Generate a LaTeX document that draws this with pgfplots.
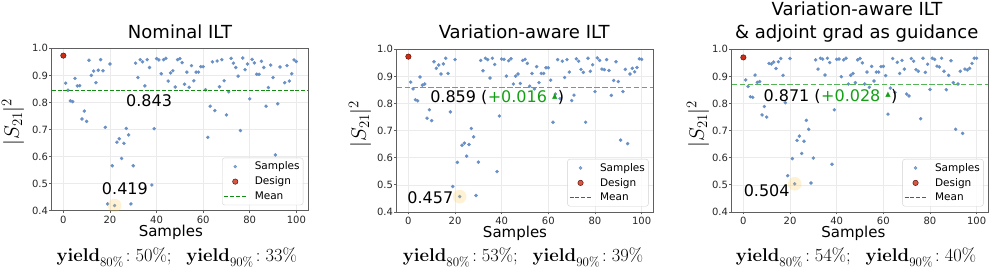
\RequirePackage{fix-cm}
\documentclass[border=0pt]{standalone}
\usepackage[no-math]{fontspec}
\setmainfont{DejaVu Sans}
\usepackage{pgfplots}
\pgfplotsset{compat=1.18}
\definecolor{sampleblue}{RGB}{104,144,198}
\definecolor{designred}{RGB}{205,45,20}
\definecolor{designedge}{RGB}{90,20,10}
\definecolor{meandark}{RGB}{20,140,20}
\definecolor{meanlight}{RGB}{85,180,85}
\definecolor{gtext}{RGB}{20,160,20}
\definecolor{hl}{RGB}{255,200,80}
\definecolor{gridgray}{RGB}{235,235,235}
\definecolor{framegray}{RGB}{95,95,95}
\tikzset{annot/.style={anchor=base west, inner sep=0pt, font=\fontsize{16}{19}\selectfont}}
\pgfplotsset{
  panel/.style={
    scale only axis, anchor=south west,
    xmin=-5, xmax=105, ymin=0.4, ymax=1.0,
    xtick={0,20,40,60,80,100}, ytick={0.4,0.5,0.6,0.7,0.8,0.9,1.0},
    grid=major, major grid style={color=gridgray, line width=0.6pt},
    axis line style={color=framegray, line width=0.8pt},
    tick style={color=framegray, line width=0.8pt},
    tick align=outside, major tick length=2.5pt,
    xtick pos=left, ytick pos=left,
    ticklabel style={font=\fontsize{10}{12}\selectfont, text=black!85},
    /pgf/number format/assume math mode=true,
    yticklabel style={/pgf/number format/fixed, /pgf/number format/fixed zerofill, /pgf/number format/precision=1, inner xsep=1pt},
    xticklabel style={inner ysep=2.8pt},
    clip mode=individual,
    legend cell align=left,
    legend image code/.code={\draw[mark repeat=2,mark phase=2,##1] plot coordinates {(0pt,0pt)(11pt,0pt)(22pt,0pt)};},
    legend style={at={(1,0)}, anchor=south east, xshift=-4.7pt, yshift=5.5pt,
      draw=black!18, rounded corners=2.5pt, fill=white, fill opacity=0.8, text opacity=1,
      font=\fontsize{10.5}{12}\selectfont, inner xsep=1.5pt, inner ysep=3pt,
      row sep=3.5pt, column sep=6pt, nodes={inner xsep=2pt, inner ysep=1pt}},
  },
  sampstyle/.style={only marks, mark=*, mark size=1.55pt, color=sampleblue, mark options={fill=sampleblue, draw=sampleblue}},
  designstyle/.style={only marks, mark=*, mark size=2.7pt, mark options={fill=designred, draw=designedge, line width=0.5pt}},
  hlc/.style={only marks, mark=*, mark size=6.8pt, color=hl, mark options={fill=hl, draw opacity=0, fill opacity=0.25}, forget plot},
}
\begin{document}
\begin{tikzpicture}
\path[use as bounding box] (0,0) rectangle (996pt,270pt);
% ---------------- Panel 1 ----------------
\begin{axis}[panel, at={(51.7pt,59.3pt)}, width=256.3pt, height=162.4pt]
\addplot[sampstyle] coordinates {
(1,0.871) (2,0.845) (3,0.806) (4,0.803) (5,0.889) (6,0.861) (7,0.862) (8,0.739) (9,0.768) (10,0.730)
(11,0.956) (12,0.900) (13,0.916) (14,0.873) (15,0.919) (16,0.958) (17,0.917) (18,0.708) (19,0.425) (20,0.942)
(21,0.566) (22,0.419) (23,0.653) (24,0.666) (25,0.593) (26,0.649) (27,0.704) (28,0.680) (29,0.425) (30,0.566)
(31,0.945) (32,0.892) (33,0.958) (34,0.950) (35,0.861) (36,0.958) (37,0.929) (38,0.495) (39,0.703) (40,0.962)
(41,0.957) (42,0.906) (43,0.958) (44,0.963) (45,0.879) (46,0.909) (47,0.917) (48,0.857) (49,0.958) (50,0.962)
(51,0.947) (52,0.867) (53,0.912) (54,0.856) (55,0.936) (56,0.880) (57,0.912) (58,0.912) (59,0.932) (60,0.932)
(61,0.847) (62,0.671) (63,0.786) (64,0.950) (65,0.770) (66,0.953) (67,0.858) (68,0.958) (69,0.880) (70,0.754)
(71,0.839) (72,0.963) (73,0.945) (74,0.929) (75,0.897) (76,0.696) (77,0.964) (78,0.921) (79,0.942) (80,0.813)
(81,0.959) (82,0.946) (83,0.904) (84,0.904) (85,0.952) (86,0.929) (87,0.786) (88,0.855) (89,0.938) (90,0.892)
(91,0.606) (92,0.795) (93,0.931) (95,0.873) (96,0.936) (97,0.879) (98,0.906) (99,0.957) (100,0.951)
};
\addlegendentry{Samples}
\addplot[designstyle] coordinates {(0,0.973)};
\addlegendentry{Design}
\addplot[color=meandark, line width=1pt, dash pattern=on 4pt off 1.8pt] coordinates {(-5,0.843) (105,0.843)};
\addlegendentry{Mean}
\addplot[hlc] coordinates {(22,0.419)};
\node[annot] at (axis cs:26.9,0.784) {0.843};
\node[annot] at (axis cs:16.5,0.458) {0.419};
\end{axis}
% ---------------- Panel 2 ----------------
\begin{axis}[panel, at={(396.7pt,58pt)}, width=256.6pt, height=162.7pt]
\addplot[sampstyle] coordinates {
(1,0.879) (2,0.854) (3,0.814) (4,0.810) (5,0.898) (6,0.868) (7,0.872) (8,0.746) (9,0.777) (10,0.737)
(11,0.954) (12,0.930) (13,0.942) (14,0.909) (15,0.946) (16,0.967) (17,0.911) (18,0.769) (19,0.494) (20,0.962)
(21,0.583) (22,0.457) (23,0.646) (24,0.654) (25,0.606) (26,0.649) (27,0.708) (28,0.677) (29,0.461) (30,0.584)
(31,0.959) (32,0.921) (33,0.967) (34,0.962) (35,0.894) (36,0.967) (37,0.944) (38,0.549) (39,0.754) (40,0.964)
(41,0.963) (42,0.901) (43,0.958) (44,0.965) (45,0.872) (46,0.901) (47,0.909) (48,0.874) (49,0.959) (50,0.963)
(51,0.948) (52,0.864) (53,0.911) (54,0.854) (55,0.936) (56,0.877) (57,0.911) (58,0.911) (59,0.932) (60,0.932)
(61,0.886) (62,0.731) (63,0.835) (64,0.962) (65,0.818) (66,0.956) (67,0.896) (68,0.962) (69,0.916) (70,0.811)
(71,0.831) (72,0.965) (73,0.956) (74,0.926) (75,0.915) (76,0.731) (77,0.967) (78,0.919) (79,0.943) (80,0.844)
(81,0.968) (82,0.959) (83,0.927) (84,0.925) (85,0.962) (86,0.922) (87,0.830) (88,0.885) (89,0.954) (90,0.881)
(91,0.665) (92,0.844) (93,0.926) (94,0.652) (95,0.909) (96,0.930) (97,0.917) (98,0.933) (99,0.965) (100,0.963)
};
\addlegendentry{Samples}
\addplot[designstyle] coordinates {(0,0.973)};
\addlegendentry{Design}
\addplot[color=meandark, line width=1pt, dash pattern=on 4pt off 1.8pt] coordinates {(-5,0.3) (105,0.3)};
\addlegendentry{Mean}
\addplot[color=meanlight, line width=1.5pt, dash pattern=on 5.5pt off 2.4pt, forget plot] coordinates {(-5,0.859) (105,0.859)};
\addplot[hlc] coordinates {(22,0.457)};
\node[annot] (pa) at (axis cs:9.3,0.803) {0.859 (};
\node[annot, text=gtext] (pb) at (pa.base east) {+0.016 \raisebox{4.3pt}{\fontsize{7}{7}\selectfont ▲}};
\node[annot] at (pb.base east) {)};
\node[annot, anchor=base east] at (axis cs:19.3,0.430) {0.457};
\end{axis}
% ---------------- Panel 3 ----------------
\begin{axis}[panel, at={(731.7pt,58pt)}, width=256.6pt, height=162.7pt]
\addplot[sampstyle] coordinates {
(1,0.887) (2,0.863) (3,0.825) (4,0.823) (5,0.905) (6,0.878) (7,0.881) (8,0.758) (9,0.789) (10,0.750)
(11,0.948) (12,0.946) (13,0.953) (14,0.929) (15,0.954) (16,0.966) (17,0.904) (18,0.803) (19,0.534) (20,0.966)
(21,0.597) (22,0.504) (23,0.664) (24,0.680) (25,0.616) (26,0.661) (27,0.738) (28,0.705) (29,0.507) (30,0.599)
(31,0.961) (32,0.927) (33,0.967) (34,0.964) (35,0.905) (36,0.967) (37,0.951) (38,0.576) (39,0.777) (40,0.963)
(41,0.964) (42,0.899) (43,0.961) (44,0.967) (45,0.872) (46,0.904) (47,0.911) (48,0.877) (49,0.961) (50,0.966)
(51,0.950) (52,0.872) (53,0.916) (54,0.860) (55,0.937) (56,0.883) (57,0.916) (58,0.916) (59,0.936) (60,0.937)
(61,0.903) (62,0.761) (63,0.857) (64,0.966) (65,0.841) (66,0.952) (67,0.911) (68,0.959) (69,0.927) (70,0.835)
(71,0.828) (72,0.966) (73,0.956) (74,0.925) (75,0.919) (76,0.744) (77,0.967) (78,0.915) (79,0.945) (80,0.852)
(81,0.967) (82,0.963) (83,0.938) (84,0.935) (85,0.967) (86,0.919) (87,0.851) (88,0.904) (89,0.958) (90,0.877)
(91,0.705) (92,0.872) (93,0.919) (94,0.690) (95,0.927) (96,0.924) (97,0.930) (98,0.948) (99,0.967) (100,0.967)
};
\addlegendentry{Samples}
\addplot[designstyle] coordinates {(0,0.970)};
\addlegendentry{Design}
\addplot[color=meandark, line width=1pt, dash pattern=on 4pt off 1.8pt] coordinates {(-5,0.3) (105,0.3)};
\addlegendentry{Mean}
\addplot[color=meanlight, line width=1.5pt, dash pattern=on 5.5pt off 2.4pt, forget plot] coordinates {(-5,0.871) (105,0.871)};
\addplot[hlc] coordinates {(22,0.504)};
\node[annot] (qa) at (axis cs:8.6,0.809) {0.871 (};
\node[annot, text=gtext] (qb) at (qa.base east) {+0.028 \raisebox{4.3pt}{\fontsize{7}{7}\selectfont ▲}};
\node[annot] at (qb.base east) {)};
\node[annot, anchor=base east] at (axis cs:19.9,0.457) {0.504};
\end{axis}
% ---------------- texts ----------------
\node[anchor=base, font=\fontsize{18}{21}\selectfont, inner sep=0] at (180pt,231.7pt) {Nominal ILT};
\node[anchor=base, font=\fontsize{18}{21}\selectfont, inner sep=0] at (524.2pt,231.7pt) {Variation-aware ILT};
\node[anchor=base, font=\fontsize{18}{21}\selectfont, inner sep=0] at (857pt,254pt) {Variation-aware ILT};
\node[anchor=base, font=\fontsize{18}{21}\selectfont, inner sep=0] at (856.7pt,231.7pt) {\& adjoint grad as guidance};
\node[anchor=base, font=\fontsize{15}{18}\selectfont, inner sep=0] at (170.8pt,33.5pt) {Samples};
\node[anchor=base, font=\fontsize{15}{18}\selectfont, inner sep=0] at (515pt,32.5pt) {Samples};
\node[anchor=base, font=\fontsize{15}{18}\selectfont, inner sep=0] at (853.3pt,32.5pt) {Samples};
\node[rotate=90, font=\fontsize{21}{24}\selectfont, inner sep=0] at (13pt,148pt) {$|S_{21}|^2$};
\node[rotate=90, font=\fontsize{21}{24}\selectfont, inner sep=0] at (360pt,146pt) {$|S_{21}|^2$};
\node[rotate=90, font=\fontsize{21}{24}\selectfont, inner sep=0] at (698pt,146pt) {$|S_{21}|^2$};
\node[anchor=base, font=\fontsize{18.5}{21}\selectfont, inner sep=0] at (176.7pt,8pt) {$\mathbf{yield}_{80\%}\!:50\%;\ \ \mathbf{yield}_{90\%}\!:33\%$};
\node[anchor=base, font=\fontsize{18.5}{21}\selectfont, inner sep=0] at (523pt,8pt) {$\mathbf{yield}_{80\%}\!:53\%;\ \ \mathbf{yield}_{90\%}\!:39\%$};
\node[anchor=base, font=\fontsize{18.5}{21}\selectfont, inner sep=0] at (856pt,8pt) {$\mathbf{yield}_{80\%}\!:54\%;\ \ \mathbf{yield}_{90\%}\!:40\%$};
\end{tikzpicture}
\end{document}
